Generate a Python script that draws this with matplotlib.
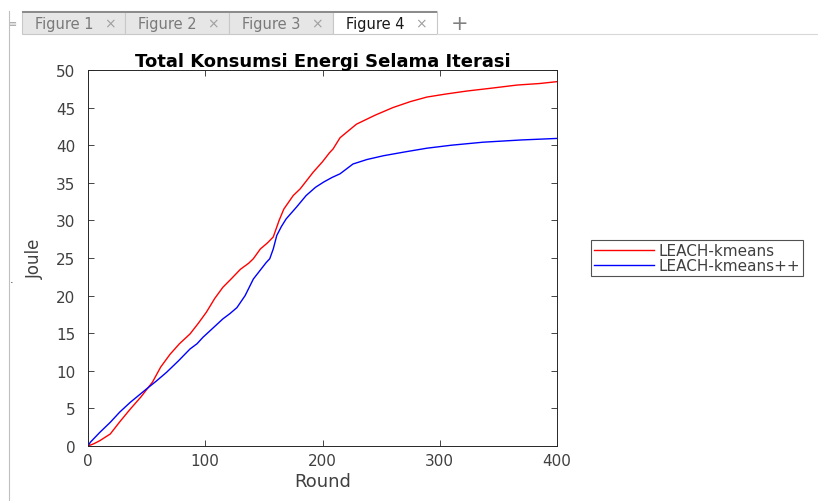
import numpy as np
import matplotlib.pyplot as plt
from matplotlib.patches import Rectangle
from matplotlib.lines import Line2D

plt.rcParams['font.family'] = ['DejaVu Sans']

# datos (round, joule)
round_kmeans = [0, 5, 10, 19, 27, 36, 45, 55, 62, 70, 78, 87, 94, 101, 108, 115, 122, 130, 137, 141, 147,
                153, 158, 163, 167, 175, 181, 192, 200, 206, 209, 215, 222, 229, 245, 260, 275, 289, 305,
                323, 345, 366, 385, 400]
joule_kmeans = [0, 0.3, 0.7, 1.6, 3.2, 4.9, 6.5, 8.5, 10.5, 12.2, 13.6, 14.9, 16.3, 17.8, 19.6, 21.1, 22.2,
                23.5, 24.3, 24.9, 26.2, 27.0, 27.8, 30.0, 31.5, 33.3, 34.2, 36.4, 37.8, 39.0, 39.5, 41.0,
                41.9, 42.8, 44.0, 45.0, 45.8, 46.4, 46.8, 47.2, 47.6, 48.0, 48.2, 48.45]

round_kmeanspp = [0, 2, 10, 19, 27, 36, 43, 50, 58, 67, 77, 87, 93, 98, 106, 115, 121, 127, 134, 141, 147,
                  152, 155, 158, 161, 165, 169, 178, 186, 194, 201, 208, 215, 226, 238, 252, 270, 289, 310,
                  337, 370, 400]
joule_kmeanspp = [0, 0.5, 1.8, 3.15, 4.5, 5.8, 6.7, 7.6, 8.6, 9.8, 11.3, 12.9, 13.6, 14.45, 15.6, 16.9,
                  17.6, 18.4, 20.0, 22.2, 23.4, 24.4, 24.9, 26.2, 28.0, 29.2, 30.2, 31.8, 33.3, 34.4, 35.1,
                  35.7, 36.2, 37.5, 38.1, 38.6, 39.1, 39.6, 40.0, 40.4, 40.7, 40.9]

x_ticks = [0, 100, 200, 300, 400]
y_ticks = [0, 5, 10, 15, 20, 25, 30, 35, 40, 45, 50]

W, H = 818, 502
fig = plt.figure(figsize=(W / 100, H / 100), dpi=100)

#-----------------------------------------
# barra de pestañas (ventana de figuras)
def px(x, y):
    return x / W, 1 - y / H

tabs = ['Figure 1', 'Figure 2', 'Figure 3', 'Figure 4']
tab_x = [22, 125, 229, 333, 437]
for i, nombre in enumerate(tabs):
    activo = (i == 3)
    x0, y0 = px(tab_x[i], 35)
    fig.patches.append(Rectangle((x0, y0), (tab_x[i + 1] - tab_x[i]) / W, 23 / H,
                                 transform=fig.transFigure,
                                 facecolor='white' if activo else '#e6e6e6',
                                 edgecolor='#c8c8c8', lw=0.8))
    xt, yt = px(tab_x[i], 12)
    fig.patches.append(Rectangle((xt, yt - 2 / H), (tab_x[i + 1] - tab_x[i]) / W, 2 / H,
                                 transform=fig.transFigure, facecolor='#8c8c8c', edgecolor='none'))
    tx, ty = px(tab_x[i] + 13, 24)
    fig.text(tx, ty, nombre, fontsize=10.5, va='center',
             color='#1a1a1a' if activo else '#7a7a7a')
    cx, cy = px(tab_x[i] + 88, 24)
    fig.text(cx, cy, '×', fontsize=10, va='center', ha='center', color='#a0a0a0')
fig.text(*px(460, 24), '+', fontsize=15, va='center', ha='center', color='#808080')
fig.text(*px(13, 24), '≡', fontsize=7, va='center', ha='center', color='#a0a0a0')
fig.lines.append(Line2D([9 / W, 9 / W], [0, 1 - 12 / H], transform=fig.transFigure,
                        color='#c0c0c0', lw=0.8))
fig.lines.append(Line2D([437 / W, 1], [1 - 35 / H, 1 - 35 / H], transform=fig.transFigure,
                        color='#d8d8d8', lw=0.8))

#-----------------------------------------
# el grafico
ax = fig.add_axes([88 / W, 1 - 447 / H, (557 - 88) / W, (447 - 71) / H])
ax.plot(round_kmeans, joule_kmeans, color='#ff0000', lw=1.0, label='LEACH-kmeans')
ax.plot(round_kmeanspp, joule_kmeanspp, color='#0000ff', lw=1.0, label='LEACH-kmeans++')
ax.set_xlim(0, 400)
ax.set_ylim(0, 50)
ax.set_xticks(x_ticks)
ax.set_yticks(y_ticks)
ax.tick_params(direction='in', top=True, right=True, length=4, width=0.6,
               labelsize=11, colors='#262626', labelcolor='#404040')
ax.tick_params(axis='y', pad=9)
ax.tick_params(axis='x', pad=5)
for s in ax.spines.values():
    s.set_color('#262626')
    s.set_linewidth(0.7)
ax.set_title('Total Konsumsi Energi Selama Iterasi', fontsize=13, fontweight='bold', pad=3)
ax.set_xlabel('Round', fontsize=13, color='#404040', labelpad=3)
ax.set_ylabel('Joule', fontsize=12, color='#404040')
ax.yaxis.set_label_coords(-44 / (557 - 88), 0.5)

leg = ax.legend(loc='center left', bbox_to_anchor=(591 / W, 1 - 259 / H),
                bbox_transform=fig.transFigure, fontsize=11, frameon=True, fancybox=False,
                edgecolor='#262626', borderpad=0.2, handlelength=3.9, labelspacing=0.0,
                handletextpad=0.3, borderaxespad=0)
leg.get_frame().set_linewidth(0.8)
for t in leg.get_texts():
    t.set_color('#404040')

fig.text(10 / W, 1 - 283 / H, '.', fontsize=8, color='#262626')

plt.savefig('out.png', dpi=100)
